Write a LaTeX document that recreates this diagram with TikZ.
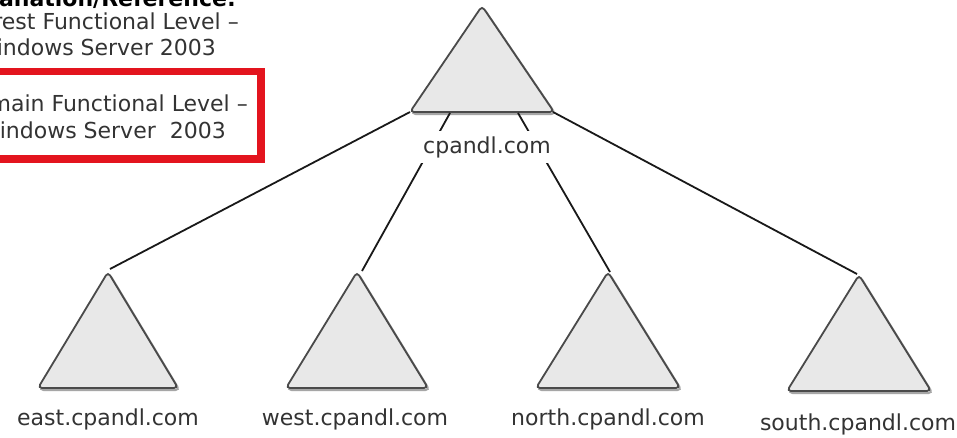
\documentclass[tikz,border=0pt]{standalone}
\usepackage{fontspec}
\setmainfont{DejaVu Sans}
\definecolor{txt}{HTML}{333333}
\definecolor{boxred}{HTML}{E3141E}
\definecolor{trifill}{HTML}{E8E8E8}
\definecolor{triedge}{HTML}{4A4A4A}
\begin{document}
\begin{tikzpicture}[x=1pt,y=-1pt,
  lbl/.style={font=\fontsize{22}{26}\selectfont, text=txt, inner sep=1pt},
  side/.style={font=\fontsize{22}{26}\selectfont, text=txt, inner sep=0pt, anchor=base east},
  tri/.style={fill=trifill, draw=triedge, line width=1.8pt, rounded corners=4pt},
  shadow/.style={draw=black!35, line width=2pt, rounded corners=4pt},
  link/.style={draw=black!90, line width=1.8pt}]
\useasboundingbox (0,0) rectangle (957,437);
\clip (0,0) rectangle (957,437);
\fill[white] (0,0) rectangle (957,437);
% top-left texts
\node[side, font=\fontsize{22}{26}\selectfont\bfseries, text=black] (title) at (236,6) {Explanation/Reference:};
\node[side] (f1) at (239,29) {Forest Functional Level –};
\node[side] (f2) at (216,55) {Windows Server 2003};
\draw[boxred, line width=7.5pt] (-10,71.5) -- (261,71.5) -- (261,159) -- (-10,159);
\node[side] (d1) at (248,111) {Domain Functional Level –};
\node[side] (d2) at (226,138) {Windows Server\ \ 2003};
% triangles: shadow then shape
\newcommand{\treeTri}[4]{% apex x, apex y, half width, height
  \draw[shadow] (#1+1.5,#2+2) -- (#1+#3+1.5,#2+#4+2) -- (#1-#3+1.5,#2+#4+2) -- cycle;
  \draw[tri] (#1,#2) -- (#1+#3,#2+#4) -- (#1-#3,#2+#4) -- cycle;}
\treeTri{482}{6}{72}{106}
\treeTri{108}{272}{70}{116}
\treeTri{357}{272}{71}{116}
\treeTri{608}{272}{72}{116}
\treeTri{859}{275}{72}{116}
% attachment coordinates
\coordinate (rootE) at (410,112);
\coordinate (rootW) at (450,113);
\coordinate (rootN) at (518,113);
\coordinate (rootS) at (553,112);
\coordinate (east) at (110,269);
\coordinate (west) at (362,271);
\coordinate (north) at (610,272);
\coordinate (south) at (857,274);
\draw[link] (rootE) -- (east);
\draw[link] (rootW) -- (west);
\draw[link] (rootN) -- (north);
\draw[link] (rootS) -- (south);
% labels
\node[lbl, fill=white, inner xsep=2pt, inner ysep=5pt] (root) at (487,147) {cpandl.com};
\node[lbl] (eastl) at (108,419) {east.cpandl.com};
\node[lbl] (westl) at (355,419) {west.cpandl.com};
\node[lbl] (northl) at (608,419) {north.cpandl.com};
\node[lbl] (southl) at (858,424) {south.cpandl.com};
\end{tikzpicture}
\end{document}
